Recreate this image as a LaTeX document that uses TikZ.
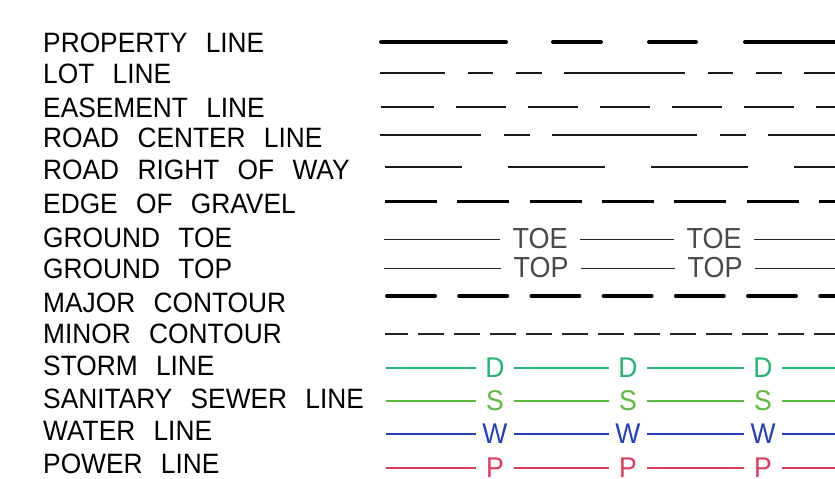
\documentclass[tikz,border=0pt]{standalone}
\usepackage{fontspec}
\setmainfont{Liberation Sans}[FakeStretch=0.94,WordSpace=2.5]
\newfontfamily\markfont{Liberation Sans}[FakeStretch=0.93]
\definecolor{stormc}{HTML}{22B573}
\definecolor{sanc}{HTML}{5DBB3F}
\definecolor{watc}{HTML}{2340B8}
\definecolor{powc}{HTML}{E03A5A}
\definecolor{toec}{HTML}{4A4A4A}
\tikzset{
  lab/.style={anchor=base west, inner sep=0pt, font=\fontsize{28}{28}\selectfont},
  thinline/.style={line width=1pt, draw=black!85},
  markbox/.style={inner sep=0pt, minimum width=80pt, text=toec, font=\markfont\fontsize{29}{29}\selectfont},
  util/.style={inner sep=0pt, minimum width=38pt, font=\markfont\fontsize{28.5}{28.5}\selectfont},
  uline/.style={line width=2.5pt}
}
\begin{document}
\begin{tikzpicture}[x=1pt,y=-1pt]
\useasboundingbox (0,0) rectangle (835,479);
\clip (0,0) rectangle (835,479);
\fill[white] (0,0) rectangle (835,479);
% labels
\node[lab] (l1) at (43,52) {PROPERTY LINE};
\node[lab] (l2) at (43,83) {LOT LINE};
\node[lab] (l3) at (43,117) {EASEMENT LINE};
\node[lab] (l4) at (43,147) {ROAD CENTER LINE};
\node[lab] (l5) at (43,179) {ROAD RIGHT OF WAY};
\node[lab] (l6) at (43,213) {EDGE OF GRAVEL};
\node[lab] (l7) at (43,247) {GROUND TOE};
\node[lab] (l8) at (43,278) {GROUND TOP};
\node[lab] (l9) at (43,312) {MAJOR CONTOUR};
\node[lab] (l10) at (43,343) {MINOR CONTOUR};
\node[lab] (l11) at (43,375) {STORM LINE};
\node[lab] (l12) at (43,408) {SANITARY SEWER LINE};
\node[lab] (l13) at (43,440) {WATER LINE};
\node[lab] (l14) at (43,473) {POWER LINE};
% property line
\coordinate (pa) at (381,42); \coordinate (pb) at (850,42);
\draw[line width=4pt, line cap=round, dash pattern=on 125pt off 47pt on 48pt off 48pt on 47pt off 49pt] (pa) -- (pb);
% lot line
\coordinate (la) at (380,72.7); \coordinate (lb) at (850,72.7);
\draw[line width=2pt, draw=black!90, dash pattern=on 121pt off 23pt on 25pt off 23pt on 26pt off 22pt, dash phase=56pt] (la) -- (lb);
% easement
\coordinate (ea) at (381,106.7); \coordinate (eb) at (850,106.7);
\draw[line width=2pt, draw=black!90, dash pattern=on 53pt off 22pt on 50pt off 22pt on 50pt off 22pt on 50pt off 22pt on 50pt off 22pt on 50pt off 22pt on 50pt off 22pt] (ea) -- (eb);
% road center
\coordinate (ra) at (380,134.7); \coordinate (rb) at (850,134.7);
\draw[line width=2pt, draw=black!90, dash pattern=on 145pt off 23pt on 26pt off 22pt, dash phase=44pt] (ra) -- (rb);
% road right of way
\coordinate (wa) at (385,167); \coordinate (wb) at (850,167);
\draw[line width=2pt, draw=black!90, dash pattern=on 97pt off 46pt, dash phase=20pt] (wa) -- (wb);
% edge of gravel
\coordinate (ga) at (385,201); \coordinate (gb) at (850,201);
\draw[line width=3pt, dash pattern=on 52pt off 20.3pt] (ga) -- (gb);
% ground toe
\coordinate (ta) at (384,239); \coordinate (tb) at (850,239);
\node[markbox] (toe1) at (540,239) {TOE};
\node[markbox] (toe2) at (714,239) {TOE};
\draw[thinline] (ta) -- (toe1) (toe1) -- (toe2) (toe2) -- (tb);
% ground top
\coordinate (tpa) at (384,268); \coordinate (tpb) at (850,268);
\node[markbox] (top1) at (541,268) {TOP};
\node[markbox] (top2) at (715,268) {TOP};
\draw[thinline] (tpa) -- (top1) (top1) -- (top2) (top2) -- (tpb);
% major contour
\coordinate (ma) at (387,296); \coordinate (mb) at (850,296);
\draw[line width=4pt, line cap=round, dash pattern=on 48pt off 24.2pt] (ma) -- (mb);
% minor contour
\coordinate (na) at (385,334); \coordinate (nb) at (850,334);
\draw[line width=1.8pt, draw=black!85, dash pattern=on 26pt off 10pt, dash phase=3pt] (na) -- (nb);
% utility lines
\foreach \yy/\ll/\cc/\nn in {368/D/stormc/st, 401/S/sanc/sa, 434/W/watc/wa, 468/P/powc/po} {
  \coordinate (\nn0) at (386,\yy);
  \coordinate (\nn4) at (850,\yy);
  \node[util, text=\cc] (\nn1) at (495,\yy) {\ll};
  \node[util, text=\cc] (\nn2) at (628,\yy) {\ll};
  \node[util, text=\cc] (\nn3) at (763,\yy) {\ll};
  \draw[uline, draw=\cc] (\nn0) -- (\nn1) (\nn1) -- (\nn2) (\nn2) -- (\nn3) (\nn3) -- (\nn4);
}
\end{tikzpicture}
\end{document}
